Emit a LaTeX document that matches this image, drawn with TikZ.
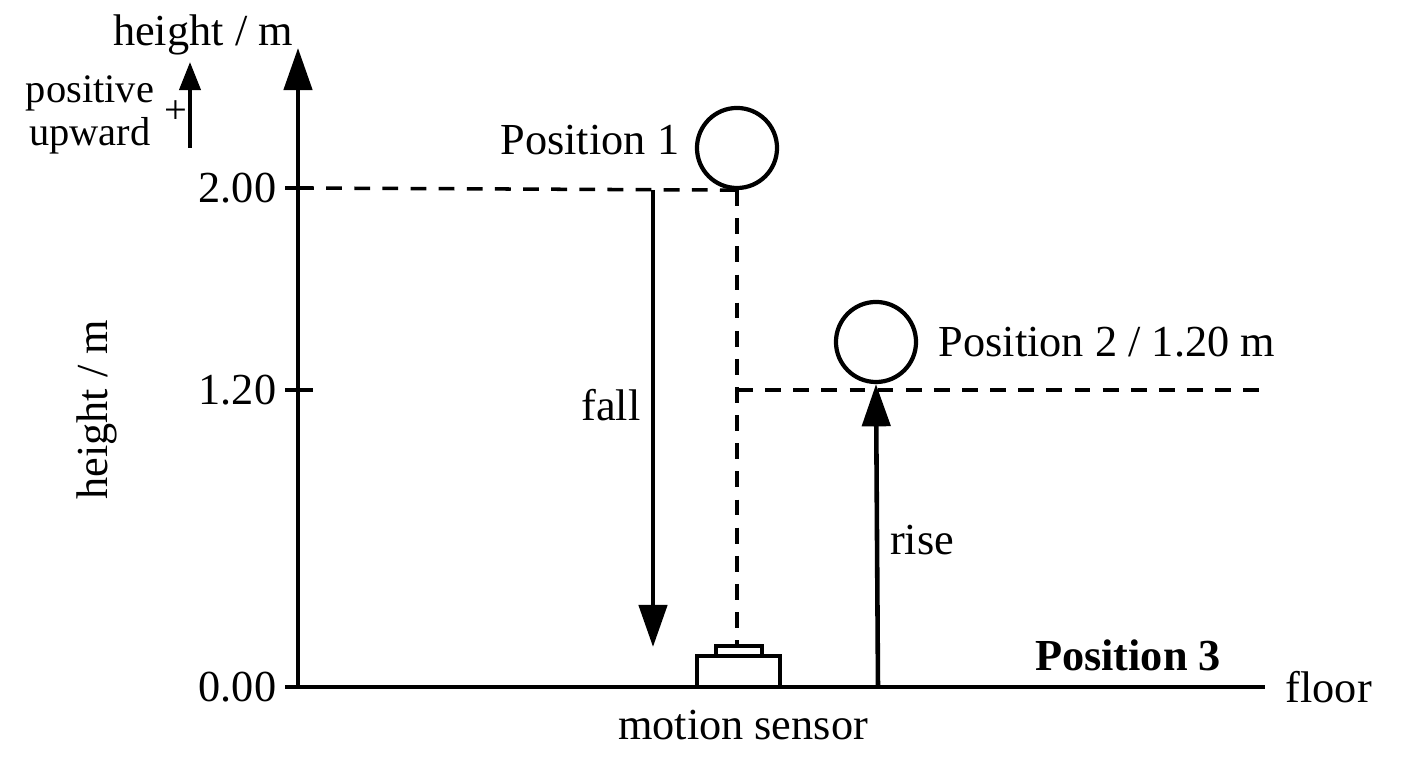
\documentclass[tikz,border=0pt]{standalone}
\usepackage{fontspec}
\setmainfont{Liberation Serif}
\usetikzlibrary{arrows.meta,positioning}
\tikzset{
  axis/.style={line width=1.3pt},
  guide/.style={dashed, line width=1pt, dash pattern=on 4.5pt off 3.5pt},
  big/.style={-{Triangle[length=12pt,width=8pt]}, line width=1.3pt},
  ball/.style={circle, draw, line width=1.2pt, minimum size=0.8cm, inner sep=0pt},
  lbl/.style={font=\fontsize{12.6}{15}\selectfont, inner sep=0pt}
}
\begin{document}
\begin{tikzpicture}[x=0.01cm,y=-0.01cm]
        \useasboundingbox (0,0) rectangle (1408,768);
        % axis and floor
        \coordinate (origin) at (298,687);
        \coordinate (top) at (298,48);
        \coordinate (floorend) at (1265,687);
        \draw[big] (origin) -- (top);
        \draw[axis] (origin) -- (floorend);
        \node[lbl, right=0.2cm of floorend] (floor) {floor};
        \node[lbl] at (203,35) (ylab) {height / m};
        \node[lbl, rotate=90] at (97,410) (ylab2) {height / m};
        \foreach \h/\y in {0.00/687, 1.20/390, 2.00/188} {
          \draw[axis] (285,\y) -- (313,\y);
          \node[lbl, anchor=east] at (277,\y) {\h};
        }
        % sign convention
        \node[lbl, align=center, font=\fontsize{11.5}{12}\selectfont] at (90,115) (pos) {positive\\upward};
        \node[lbl, font=\fontsize{11.5}{12}\selectfont] at (176,112) (plus) {+};
        \coordinate (pa) at (190,148);
        \coordinate (pb) at (190,62);
        \draw[-{Triangle[length=8pt,width=6pt]}, line width=1.1pt] (pa) -- (pb);
        % balls
        \node[ball] at (737,148) (ball1) {};
        \node[lbl, left=0.15cm of ball1, yshift=0.08cm] (p1) {Position 1};
        \node[ball] at (876,342) (ball2) {};
        \node[lbl, right=0.2cm of ball2] (p2) {Position 2 / 1.20 m};
        % sensor
        \draw[line width=1.1pt] (697,687) rectangle (780,656);
        \draw[line width=1.1pt] (716,656) rectangle (762,646);
        \node[lbl] at (743,725) (sensor) {motion sensor};
        % guides
        \coordinate (h2) at (298,188);
        \coordinate (h12) at (737,390);
        \coordinate (h12end) at (1270,390);
        \coordinate (beam) at (737,646);
        \draw[guide] (h2) -- (ball1.south);
        \draw[guide] (ball1.south) -- (beam);
        \draw[guide] (h12) -- (h12end);
        % fall and rise
        \coordinate (fa) at (653,190);
        \coordinate (fb) at (653,647);
        \draw[big] (fa) -- (fb);
        \node[lbl] at (611,405) (fall) {fall};
        \coordinate (ra) at (878,687);
        \draw[big] (ra) -- (ball2.south);
        \node[lbl] at (922,540) (rise) {rise};
        \node[lbl, font=\fontsize{12.6}{15}\selectfont\bfseries] at (1128,655) (p3) {Position 3};
\end{tikzpicture}
\end{document}
